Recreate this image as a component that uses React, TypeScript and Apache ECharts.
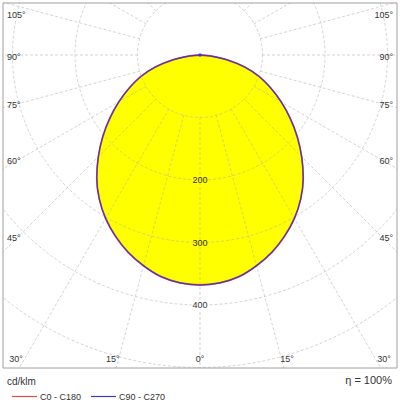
import React, { useEffect, useRef } from 'react';
import * as echarts from 'echarts';

// gamma angles (deg from nadir) and intensities in cd/klm
const gammaDeg = [0, 5, 10, 15, 20, 25, 30, 35, 40, 45, 50, 55, 60, 65, 70, 75, 80, 85, 90];
const c0c180 = [368, 366, 360, 349, 336, 320, 302, 281, 257, 230, 203, 176, 150, 125, 101, 74, 44, 16, 0];
const c90c270 = [368, 366, 360, 349, 336, 320, 302, 281, 257, 230, 203, 176, 150, 125, 101, 74, 44, 16, 0];

const ringLabels = [200, 300, 400];
const sideAngles = [105, 90, 75, 60, 45];
const bottomAngles = [30, 15, 0, 15, 30];
const bottomSigns = [-1, -1, 0, 1, 1];

const unitLabel = 'cd/klm';
const efficiencyLabel = 'η = 100%';

const CX = 200;
const CY = 55;
const FONT = "'Liberation Sans', Arial, sans-serif";

// mirror one half-curve into a full -90..90 sweep on a 0..360 angle axis
const toPolar = (values: number[]) => {
  const pts: number[][] = [];
  for (let i = gammaDeg.length - 1; i > 0; i--) pts.push([values[i], 360 - gammaDeg[i]]);
  for (let i = 0; i < gammaDeg.length; i++) pts.push([values[i], gammaDeg[i]]);
  return pts;
};

const App: React.FC = () => {
  const chartRef = useRef<HTMLDivElement>(null);

  useEffect(() => {
    document.body.style.margin = '0';
    if (!chartRef.current) return;
    const chart = echarts.init(chartRef.current, null, { renderer: 'svg' });

    const labelStyle = { fill: '#333', fontSize: 9, fontFamily: FONT };
    const angleTexts: any[] = [];
    sideAngles.forEach((a) => {
      const t = Math.tan((a * Math.PI) / 180);
      let y = Math.abs(a - 90) < 0.01 ? CY + 2 : CY + 181 / t + 1.5;
      y = Math.max(15, Math.min(345, y));
      angleTexts.push({
        type: 'text', x: 7, y, z: 101,
        style: { ...labelStyle, text: `${a}°`, textAlign: 'left', textVerticalAlign: 'middle' }
      });
      angleTexts.push({
        type: 'text', x: 393, y, z: 101,
        style: { ...labelStyle, text: `${a}°`, textAlign: 'right', textVerticalAlign: 'middle' }
      });
    });
    bottomAngles.forEach((a, i) => {
      let x = CX + bottomSigns[i] * 325 * Math.tan((a * Math.PI) / 180);
      x = Math.max(16, Math.min(384, x));
      angleTexts.push({
        type: 'text', x, y: 359, z: 101,
        style: { ...labelStyle, text: `${a}°`, textAlign: 'center', textVerticalAlign: 'middle' }
      });
    });

    const gridLine = { color: '#b0b0b0', width: 1, type: [3, 2] as number[], opacity: 0.55 };
    const hidden = {
      axisLine: { show: false }, axisTick: { show: false }, axisLabel: { show: false },
      splitLine: { show: false }
    };

    chart.setOption({
      animation: false,
      backgroundColor: '#fff',
      polar: [
        { center: [CX, CY], radius: [62.5, 375] },
        { center: [CX, CY], radius: [0, 375] }
      ],
      angleAxis: [
        {
          polarIndex: 0, type: 'value', min: 0, max: 360, interval: 15, startAngle: -90, clockwise: true, z: 2,
          axisLine: { show: false }, axisTick: { show: false }, axisLabel: { show: false },
          splitLine: { show: true, lineStyle: gridLine }
        },
        { polarIndex: 1, type: 'value', min: 0, max: 360, interval: 15, startAngle: -90, clockwise: true, ...hidden }
      ],
      radiusAxis: [
        {
          polarIndex: 0, type: 'value', min: 100, max: 600, interval: 100, z: 2,
          axisLine: { show: false }, axisTick: { show: false },
          splitLine: { show: true, lineStyle: gridLine },
          axisLabel: {
            margin: 0, align: 'center', verticalAlign: 'middle', color: '#333', fontSize: 9, fontFamily: FONT,
            formatter: (v: number) => {
              if (!ringLabels.includes(v)) return '';
              return v === 400 ? `{w|${v}}` : `${v}`;
            },
            rich: { w: { backgroundColor: '#fff', color: '#333', fontSize: 9, fontFamily: FONT, padding: [0, 1] } }
          }
        },
        { polarIndex: 1, type: 'value', min: 0, max: 600, interval: 100, ...hidden }
      ],
      legend: {
        left: 7, top: 387, z: 200, icon: 'rect', itemWidth: 25, itemHeight: 1.2, itemGap: 10,
        textStyle: { color: '#333', fontSize: 9, fontFamily: FONT, padding: [0, 0, 0, -2] },
        data: ['C0 - C180', 'C90 - C270']
      },
      series: [
        {
          name: 'fill', type: 'line', coordinateSystem: 'polar', polarIndex: 1, data: toPolar(c0c180), z: 1,
          smooth: 0.3, showSymbol: false, silent: true,
          lineStyle: { width: 0 }, areaStyle: { color: '#ffff00', opacity: 1 }
        },
        {
          name: 'C0 - C180', type: 'line', coordinateSystem: 'polar', polarIndex: 1, data: toPolar(c0c180), z: 3,
          smooth: 0.3, showSymbol: false, color: '#e34a4a',
          lineStyle: { width: 1.8, color: '#e34a4a' }
        },
        {
          name: 'C90 - C270', type: 'line', coordinateSystem: 'polar', polarIndex: 1, data: toPolar(c90c270), z: 4,
          smooth: 0.3, showSymbol: false, color: '#3a3ac8',
          lineStyle: { width: 1.1, color: '#3a3ac8' }
        }
      ],
      graphic: [
        { type: 'rect', z: 100, shape: { x: 0, y: 368.5, width: 400, height: 32 }, style: { fill: '#fff' } },
        { type: 'rect', z: 100, shape: { x: 0, y: 0, width: 400, height: 2.5 }, style: { fill: '#fff' } },
        { type: 'rect', z: 100, shape: { x: 0, y: 0, width: 2.5, height: 400 }, style: { fill: '#fff' } },
        { type: 'rect', z: 100, shape: { x: 397.5, y: 0, width: 2.5, height: 400 }, style: { fill: '#fff' } },
        {
          type: 'rect', z: 101, shape: { x: 3, y: 3, width: 394, height: 365 },
          style: { fill: 'none', stroke: '#a0a0a0', lineWidth: 1 }
        },
        {
          type: 'circle', z: 102, shape: { cx: CX, cy: CY, r: 1.6 }, style: { fill: '#3a3ac8' }
        },
        ...angleTexts,
        {
          type: 'text', x: 7, y: 381, z: 101,
          style: { text: unitLabel, fill: '#333', fontSize: 10, fontFamily: FONT, textVerticalAlign: 'middle' }
        },
        {
          type: 'text', x: 392, y: 380, z: 101,
          style: { text: efficiencyLabel, fill: '#333', fontSize: 11, fontFamily: FONT, textAlign: 'right', textVerticalAlign: 'middle' }
        }
      ]
    });

    return () => {
      chart.dispose();
    };
  }, []);

  return <div ref={chartRef} style={{ width: 400, height: 400 }} />;
};

export default App;
